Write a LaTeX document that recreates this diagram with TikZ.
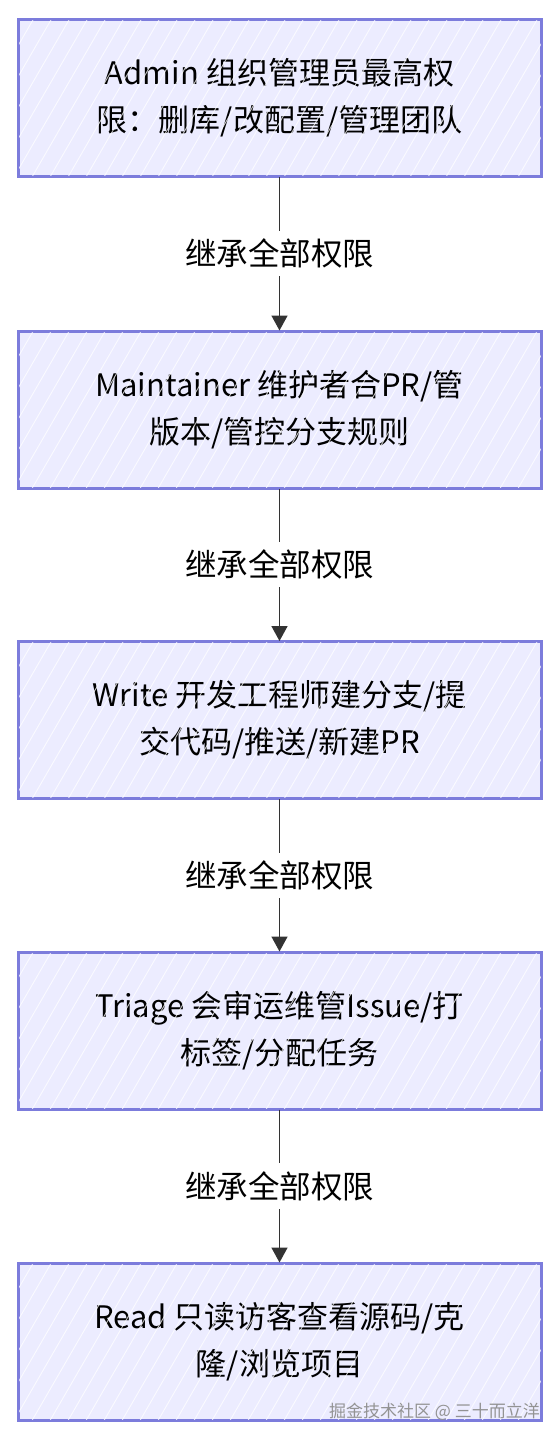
\documentclass[tikz,border=0pt]{standalone}
\usepackage{fontspec}
\setmainfont{Noto Sans CJK SC}
\usetikzlibrary{arrows.meta,calc}
\definecolor{boxfill}{HTML}{ECECFF}
\definecolor{boxline}{RGB}{124,124,220}
\definecolor{edgecol}{HTML}{333333}
\tikzset{
  rolebox/.style={draw=boxline, fill=boxfill, line width=2pt, minimum width=522pt, minimum height=156pt, inner sep=0pt, text=black,
    font=\fontsize{31}{47}\selectfont, align=center},
  edgelabel/.style={fill=white, inner sep=8pt, font=\fontsize{31.5}{36}\selectfont, text=black},
  link/.style={draw=edgecol, line width=1.6pt, -{Triangle[width=16pt,length=15pt]}},
}
\newcommand{\hatchbox}[1]{%
  \begin{scope}
    \clip (#1.south west) rectangle (#1.north east);
    \foreach \k in {-200,-182,...,600} {
      \draw[white, line width=0.9pt, opacity=0.75] ($(#1.north west)+(\k,0)$) -- ++(-110,190);
    }
  \end{scope}
  \draw[boxline, line width=2pt] (#1.south west) rectangle (#1.north east);
}
\begin{document}
\begin{tikzpicture}[x=1pt,y=-1pt]
\useasboundingbox (0,0) rectangle (559,1439);
\node[rolebox] (admin) at (279.5,98) {Admin 组织管理员最高权\\限：删库/改配置/管理团队};
\hatchbox{admin}
\node[rolebox] (maint) at (279.5,409.5) {Maintainer 维护者合PR/管\\版本/管控分支规则};
\hatchbox{maint}
\node[rolebox] (write) at (279.5,720) {Write 开发工程师建分支/提\\交代码/推送/新建PR};
\hatchbox{write}
\node[rolebox] (triage) at (279.5,1030.5) {Triage 会审运维管Issue/打\\标签/分配任务};
\hatchbox{triage}
\node[rolebox] (read) at (279.5,1341.5) {Read 只读访客查看源码/克\\隆/浏览项目};
\hatchbox{read}
\path[link] (admin) -- node[edgelabel] {继承全部权限} (maint);
\path[link] (maint) -- node[edgelabel] {继承全部权限} (write);
\path[link] (write) -- node[edgelabel] {继承全部权限} (triage);
\path[link] (triage) -- node[edgelabel] {继承全部权限} (read);
\node[anchor=south east, inner sep=0pt, font=\fontsize{17}{17}\selectfont, text=gray!85] (wm) at (540,1421) {掘金技术社区 @ 三十而立洋};
\end{tikzpicture}
\end{document}
